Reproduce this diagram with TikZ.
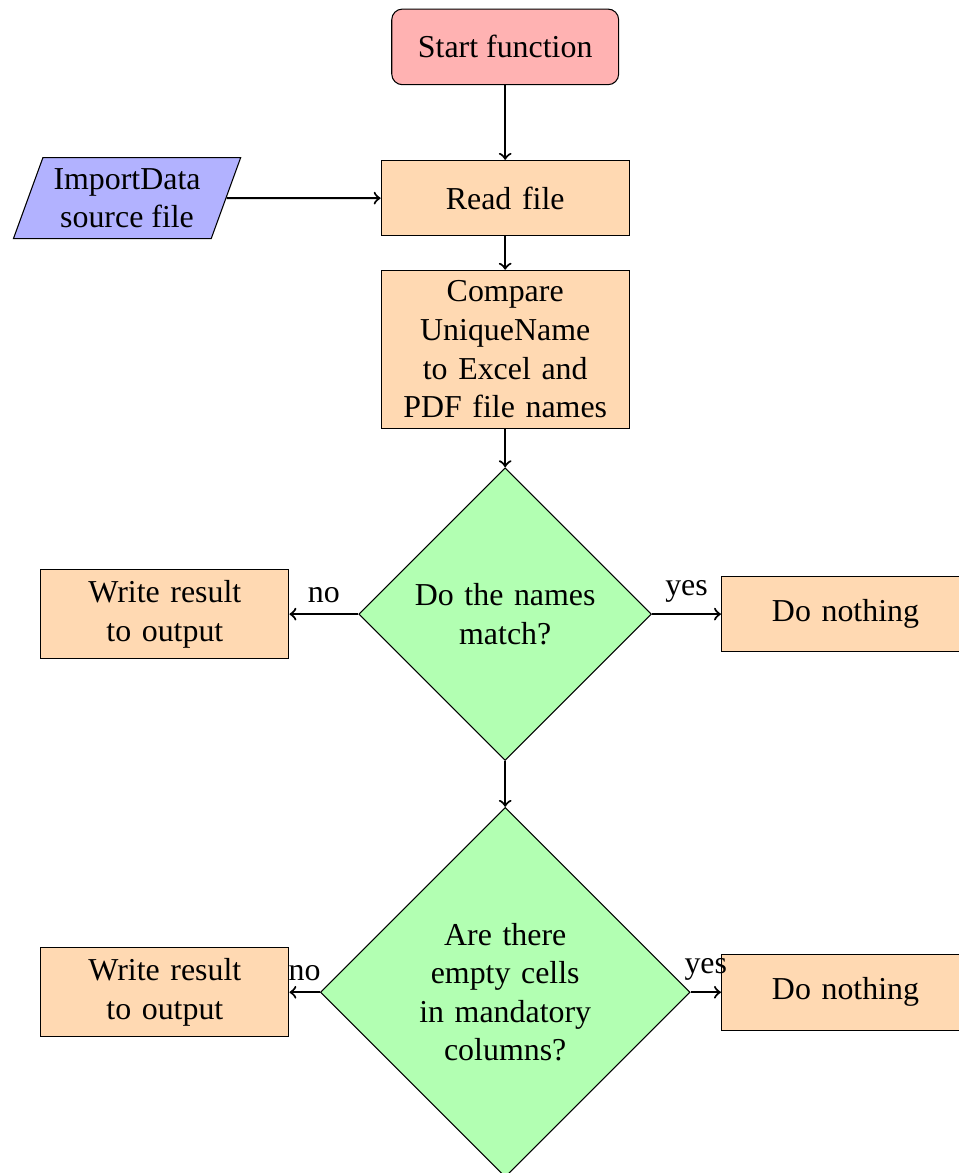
\documentclass[12pt,tikz,border=0pt]{standalone}
\usepackage{fontspec}
\setmainfont{Liberation Serif}
\usepackage{xcolor}
\usetikzlibrary{shapes.geometric}

\tikzset{
  startstop/.style={rectangle, rounded corners, minimum width=3cm, minimum height=1cm, text centered, draw=black, fill=red!30},
  io/.style={trapezium, trapezium left angle=70, trapezium right angle=110, minimum width=3cm, minimum height=1cm, align=center, draw=black, fill=blue!30},
  process/.style={rectangle, minimum width=3cm, minimum height=1cm, text centered, text width=3cm, draw=black, fill=orange!30},
  decision/.style={diamond, minimum width=3cm, minimum height=1cm, text centered, text width=2.5cm, draw=black, fill=green!30},
  arrow/.style={thick, ->}
}

\begin{document}
\begin{tikzpicture}
        \useasboundingbox (-6.68,-14.89) rectangle (5.99,0.62);

        \node[startstop] (start) at (0, 0) {Start function};
        \node[io] (src) at (-5, -2) {ImportData\\source file};
        \node[process] (read) at (0, -2) {Read file};
        \node[process] (cmp) at (0, -4) {Compare UniqueName to Excel and PDF file names};
        \node[decision] (dec1) at (0, -7.5) {Do the names match?};
        \node[process] (out1) at (-4.5, -7.5) {Write result to output};
        \node[process] (nop1) at (4.5, -7.5) {Do nothing};
        \node[decision] (dec2) at (0, -12.5) {Are there empty cells in mandatory columns?};
        \node[process] (out2) at (-4.5, -12.5) {Write result to output};
        \node[process] (nop2) at (4.5, -12.5) {Do nothing};

        \draw[arrow] (start) -- (read);
        \draw[arrow] (src) -- (read);
        \draw[arrow] (read) -- (cmp);
        \draw[arrow] (cmp) -- (dec1);
        \draw[arrow] (dec1) -- node[midway, above] {no} (out1);
        \draw[arrow] (dec1) -- node[midway, above] {yes} (nop1);
        \draw[arrow] (dec1) -- (dec2);
        \draw[arrow] (dec2) -- node[midway, above] {no} (out2);
        \draw[arrow] (dec2) -- node[midway, above] {yes} (nop2);

\end{tikzpicture}
\end{document}
